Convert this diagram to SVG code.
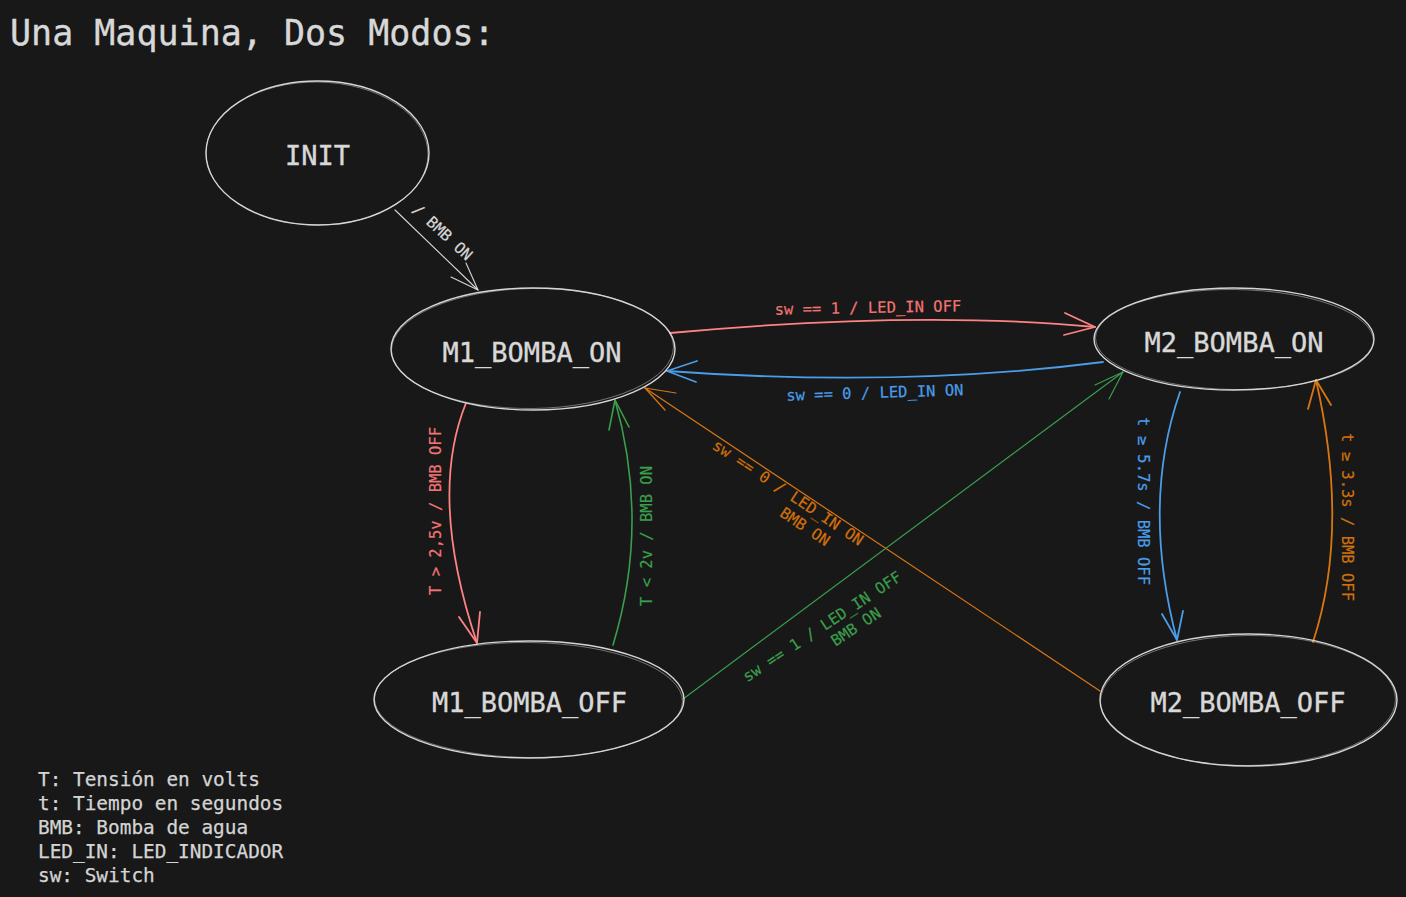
<svg xmlns="http://www.w3.org/2000/svg" width="1406" height="897" viewBox="0 0 1406 897">
<style>
  .node { fill: none; stroke: #d6d6d6; stroke-width: 1.4; }
  .node2 { fill: none; stroke: #d6d6d6; stroke-width: 0.8; opacity: 0.6; }
  .nlabel { font-family: "DejaVu Sans Mono", "Liberation Mono", monospace; font-size: 27px; fill: #d8d8d8; stroke: #d8d8d8; stroke-width: 0.35; text-anchor: middle; }
  .elabel { font-family: "DejaVu Sans Mono", "Liberation Mono", monospace; font-size: 15.5px; text-anchor: middle; stroke-width: 0.2; }
  .title { font-family: "DejaVu Sans Mono", "Liberation Mono", monospace; font-size: 35px; fill: #d8d8d8; stroke: #d8d8d8; stroke-width: 0.35; }
  .legend { font-family: "DejaVu Sans Mono", "Liberation Mono", monospace; font-size: 19.4px; fill: #d4d4d4; stroke: #d4d4d4; stroke-width: 0.25; }
  .edge { fill: none; stroke-linecap: round; stroke-linejoin: round; }
  .w { stroke: #d6d6d6; }
  .r { stroke: #ff8383; }
  .b { stroke: #4a9de8; }
  .g { stroke: #3a9e4c; }
  .o { stroke: #d9770f; }
  .tw { fill: #d6d6d6; stroke: #d6d6d6; }
  .tr { fill: #f07474; stroke: #f07474; }
  .tb { fill: #4a9de8; stroke: #4a9de8; }
  .tg { fill: #3a9e4c; stroke: #3a9e4c; }
  .to { fill: #d0700c; stroke: #d0700c; }
</style>
<rect x="0" y="0" width="1406" height="897" fill="#181818"/>

<text class="title" x="10" y="45">Una Maquina, Dos Modos:</text>

<g id="connectors">
  <g id="e-init-m1on">
    <path class="edge w" stroke-width="1.1" d="M395,210 L478,290"/>
    <polyline class="edge w" stroke-width="1.1" points="451,277 478,290 466,263"/>
    <text class="elabel tw" transform="translate(439,236) rotate(42.8)">/ BMB ON</text>
  </g>
  <g id="e-m1on-m2on">
    <path class="edge r" stroke-width="1.8" d="M670,333 Q917,310 1095,327"/>
    <polyline class="edge r" stroke-width="1.8" points="1065,313 1095,327 1064,335"/>
    <text class="elabel tr" transform="translate(868,313) rotate(-1)">sw == 1 / LED_IN OFF</text>
  </g>
  <g id="e-m2on-m1on">
    <path class="edge b" stroke-width="1.8" d="M1103,362 Q901,388 667,371"/>
    <polyline class="edge b" stroke-width="1.8" points="697,361 667,371 696,382"/>
    <text class="elabel tb" transform="translate(875,398) rotate(-1.8)">sw == 0 / LED_IN ON</text>
  </g>
  <g id="e-m2off-m1on">
    <path class="edge o" stroke-width="1.2" d="M1100,691 L645,388"/>
    <polyline class="edge o" stroke-width="1.2" points="676,393 645,388 665,410"/>
    <text class="elabel to" transform="translate(785,497) rotate(33.6)"><tspan x="0" y="0">sw == 0 / LED_IN ON</tspan><tspan x="33" y="19">BMB ON</tspan></text>
  </g>
  <g id="e-m1off-m2on">
    <path class="edge g" stroke-width="1.2" d="M683,699 L1123,372"/>
    <polyline class="edge g" stroke-width="1.2" points="1095,385 1123,372 1109,399"/>
    <text class="elabel tg" transform="translate(825,631) rotate(-33.5)"><tspan x="0" y="0">sw == 1 / LED_IN OFF</tspan><tspan x="28" y="19">BMB ON</tspan></text>
  </g>
  <g id="e-m1on-m1off">
    <path class="edge r" stroke-width="1.8" d="M466,403 Q428,497 477,643"/>
    <polyline class="edge r" stroke-width="1.8" points="459,617 477,643 480,612"/>
    <text class="elabel tr" transform="translate(441,511) rotate(-90)">T &gt; 2,5v / BMB OFF</text>
  </g>
  <g id="e-m1off-m1on">
    <path class="edge g" stroke-width="1.6" d="M613,645 Q650,524 615,400"/>
    <polyline class="edge g" stroke-width="1.6" points="609,430 615,400 629,427"/>
    <text class="elabel tg" transform="translate(652,536) rotate(-90)">T &lt; 2v / BMB ON</text>
  </g>
  <g id="e-m2on-m2off">
    <path class="edge b" stroke-width="1.8" d="M1180,392 Q1141,504 1177,640"/>
    <polyline class="edge b" stroke-width="1.8" points="1162,614 1177,640 1183,611"/>
    <text class="elabel tb" transform="translate(1138,501) rotate(90)">t ≥ 5.7s / BMB OFF</text>
  </g>
  <g id="e-m2off-m2on">
    <path class="edge o" stroke-width="1.8" d="M1313,642 Q1350,529 1316,380"/>
    <polyline class="edge o" stroke-width="1.8" points="1308,409 1316,380 1331,405"/>
    <text class="elabel to" transform="translate(1342,517) rotate(90)">t ≥ 3.3s / BMB OFF</text>
  </g>
</g>

<g id="INIT">
  <ellipse class="node" cx="317.5" cy="153" rx="111.5" ry="72"/>
  <ellipse class="node2" cx="317" cy="153.5" rx="111" ry="71.5" transform="rotate(0.6 317 153)"/>
  <text class="nlabel" x="317.5" y="165">INIT</text>
</g>
<g id="M1_BOMBA_ON">
  <ellipse class="node" cx="533" cy="349" rx="142" ry="61"/>
  <ellipse class="node2" cx="532.5" cy="348.5" rx="141" ry="60" transform="rotate(-0.8 533 349)"/>
  <text class="nlabel" x="532" y="362">M1_BOMBA_ON</text>
</g>
<g id="M2_BOMBA_ON">
  <ellipse class="node" cx="1234" cy="339" rx="140" ry="51"/>
  <ellipse class="node2" cx="1234.5" cy="339.5" rx="139" ry="50" transform="rotate(0.7 1234 339)"/>
  <text class="nlabel" x="1234" y="352">M2_BOMBA_ON</text>
</g>
<g id="M1_BOMBA_OFF">
  <ellipse class="node" cx="529" cy="699.5" rx="155" ry="58.5"/>
  <ellipse class="node2" cx="528.5" cy="700" rx="154" ry="57.5" transform="rotate(0.6 529 700)"/>
  <text class="nlabel" x="529.5" y="712">M1_BOMBA_OFF</text>
</g>
<g id="M2_BOMBA_OFF">
  <ellipse class="node" cx="1248.5" cy="700" rx="148.5" ry="66"/>
  <ellipse class="node2" cx="1248" cy="700.5" rx="147.5" ry="65" transform="rotate(-0.6 1248 700)"/>
  <text class="nlabel" x="1248" y="712">M2_BOMBA_OFF</text>
</g>

<g id="legend">
  <text class="legend" x="38" y="786">T: Tensión en volts</text>
  <text class="legend" x="38" y="810">t: Tiempo en segundos</text>
  <text class="legend" x="38" y="834">BMB: Bomba de agua</text>
  <text class="legend" x="38" y="858">LED_IN: LED_INDICADOR</text>
  <text class="legend" x="38" y="882">sw: Switch</text>
</g>
</svg>
